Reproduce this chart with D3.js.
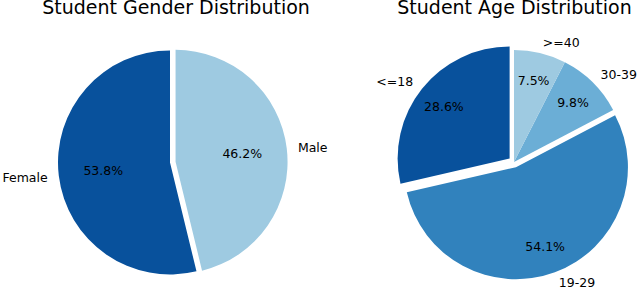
<!DOCTYPE html>
<html>
<head>
<meta charset="utf-8">
<script src="https://cdn.jsdelivr.net/npm/d3@7"></script>
<style>
  body { margin: 0; background: #fff; }
  svg text { font-family: "DejaVu Sans", sans-serif; fill: #000; }
</style>
</head>
<body>
<svg id="chart" width="640" height="288"></svg>
<script>
// gender pie
var genderLabels = ["Female", "Male"];
var genderValues = [53.8, 46.2];
var genderColors = ["#08519c", "#9ecae1"];
var genderExplode = [0, 0.05];

// age pie
var ageLabels = ["<=18", "19-29", "30-39", ">=40"];
var ageValues = [28.6, 54.1, 9.8, 7.5];
var ageColors = ["#08519c", "#3182bd", "#6baed6", "#9ecae1"];
var ageExplode = [0.05, 0.05, 0, 0];

var width = 640,
    height = 288,
    radius = 112;

var svg = d3.select("#chart");

var charts = [
  {title: "Student Gender Distribution", labels: genderLabels, values: genderValues,
   colors: genderColors, explode: genderExplode, cx: 170, cy: 162.5, titleX: 176, pctDist: 0.6},
  {title: "Student Age Distribution", labels: ageLabels, values: ageValues,
   colors: ageColors, explode: ageExplode, cx: 514, cy: 162, titleX: 514.5, pctDist: 0.75}
];

// counter-clockwise from 12 o'clock, like matplotlib startangle=90
var pie = d3.pie().sort(null).startAngle(0).endAngle(-2 * Math.PI);

charts.forEach(function(c) {
  var color = d3.scaleOrdinal().domain(c.labels).range(c.colors);
  var arc = d3.arc().innerRadius(0).outerRadius(radius);

  var data = pie(c.values).map(function(d, i) {
    var a = (d.startAngle + d.endAngle) / 2;
    var shift = c.explode[i] * radius;
    d.label = c.labels[i];
    d.mid = a;
    d.ox = c.cx + Math.sin(a) * shift;
    d.oy = c.cy - Math.cos(a) * shift;
    return d;
  });

  var g = svg.append("g");

  g.selectAll("path")
    .data(data)
    .enter().append("path")
    .attr("transform", function(d) { return "translate(" + d.ox + "," + d.oy + ")"; })
    .attr("d", arc)
    .attr("fill", function(d) { return color(d.label); });

  // category labels at 1.1 r
  g.selectAll(".lbl")
    .data(data)
    .enter().append("text")
    .attr("class", "lbl")
    .attr("x", function(d) { return d.ox + Math.sin(d.mid) * radius * 1.1; })
    .attr("y", function(d) { return d.oy - Math.cos(d.mid) * radius * 1.1; })
    .attr("text-anchor", function(d) { return Math.sin(d.mid) < 0 ? "end" : "start"; })
    .attr("dominant-baseline", "central")
    .style("font-size", "12.5px")
    .text(function(d) { return d.label; });

  // percentages
  g.selectAll(".pct")
    .data(data)
    .enter().append("text")
    .attr("class", "pct")
    .attr("x", function(d) { return d.ox + Math.sin(d.mid) * radius * c.pctDist; })
    .attr("y", function(d) { return d.oy - Math.cos(d.mid) * radius * c.pctDist; })
    .attr("text-anchor", "middle")
    .attr("dominant-baseline", "central")
    .style("font-size", "12.5px")
    .text(function(d) { return d.value.toFixed(1) + "%"; });

  svg.append("text")
    .attr("x", c.titleX)
    .attr("y", 14)
    .attr("text-anchor", "middle")
    .style("font-size", "19px")
    .text(c.title);
});
</script>
</body>
</html>
